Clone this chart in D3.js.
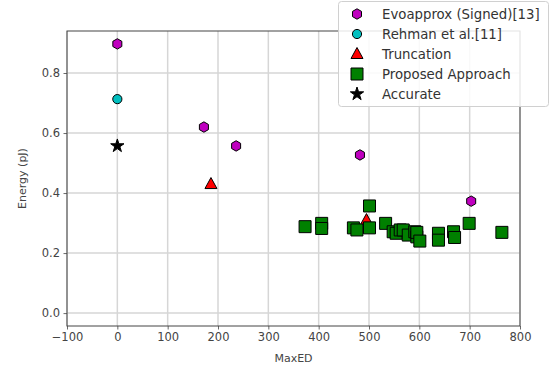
<!DOCTYPE html>
<html>
<head>
<meta charset="utf-8">
<script src="https://cdn.jsdelivr.net/npm/d3@7"></script>
<style>
  body { margin: 0; background: #fff; }
  text { font-family: "DejaVu Sans", sans-serif; }
</style>
</head>
<body>
<div id="chart"></div>
<script>
var evoX = [0, 172, 236, 482, 703];
var evoY = [0.897, 0.62, 0.557, 0.527, 0.373];

var rehmanX = [0];
var rehmanY = [0.713];

var truncX = [186, 495];
var truncY = [0.43, 0.31];

var propX = [373, 406, 406, 469, 476, 501, 501, 533, 548, 554, 562, 568, 578, 591, 595, 595, 601, 638, 638, 668, 670, 699, 764];
var propY = [0.288, 0.299, 0.282, 0.284, 0.277, 0.357, 0.284, 0.299, 0.271, 0.266, 0.277, 0.277, 0.26, 0.271, 0.254, 0.269, 0.24, 0.266, 0.243, 0.271, 0.252, 0.299, 0.269];

var accX = [0];
var accY = [0.557];

var xTicks = [-100, 0, 100, 200, 300, 400, 500, 600, 700, 800];
var yTicks = [0.0, 0.2, 0.4, 0.6, 0.8];

var seriesNames = ["Evoapprox (Signed)[13]", "Rehman et al.[11]", "Truncation", "Proposed Approach", "Accurate"];

var W = 555, H = 372;
var plotLeft = 67, plotRight = 520, plotTop = 31, plotBottom = 326;

var svg = d3.select("#chart").append("svg")
    .attr("width", W)
    .attr("height", H);

var x = d3.scaleLinear().domain([-100, 800]).range([plotLeft, plotRight]);
var y = d3.scaleLinear().domain([-0.043, 0.94]).range([plotBottom, plotTop]);

// grid
svg.append("g").selectAll("line")
    .data(xTicks)
    .enter().append("line")
        .attr("x1", d => x(d)).attr("x2", d => x(d))
        .attr("y1", plotTop).attr("y2", plotBottom)
        .attr("stroke", "#d6d6d6").attr("stroke-width", 1.5);
svg.append("g").selectAll("line")
    .data(yTicks)
    .enter().append("line")
        .attr("x1", plotLeft).attr("x2", plotRight)
        .attr("y1", d => y(d)).attr("y2", d => y(d))
        .attr("stroke", "#d6d6d6").attr("stroke-width", 1.5);

// axes
var xAxis = svg.append("g")
    .attr("transform", "translate(0," + plotBottom + ")")
    .call(d3.axisBottom(x).tickValues(xTicks).tickSize(3.5).tickPadding(3.5)
        .tickFormat(d => d < 0 ? "\u2212" + Math.abs(d) : d));
var yAxis = svg.append("g")
    .attr("transform", "translate(" + plotLeft + ",0)")
    .call(d3.axisLeft(y).tickValues(yTicks).tickSize(3.5).tickPadding(3.5).tickFormat(d3.format(".1f")));

[xAxis, yAxis].forEach(function(a) {
    a.select(".domain").remove();
    a.selectAll(".tick line").attr("stroke", "#444").attr("stroke-width", 0.8);
    a.selectAll(".tick text").attr("fill", "#444").style("font-size", "11.5px");
});

svg.append("rect")
    .attr("x", plotLeft).attr("y", plotTop)
    .attr("width", plotRight - plotLeft).attr("height", plotBottom - plotTop)
    .attr("fill", "none").attr("stroke", "#444").attr("stroke-width", 1);

svg.append("text")
    .attr("x", (plotLeft + plotRight) / 2).attr("y", 362)
    .attr("text-anchor", "middle")
    .attr("fill", "#444").style("font-size", "11px")
    .text("MaxED");

svg.append("text")
    .attr("transform", "translate(26," + ((plotTop + plotBottom) / 2) + ") rotate(-90)")
    .attr("text-anchor", "middle")
    .attr("fill", "#444").style("font-size", "11px")
    .text("Energy (pJ)");

// marker shapes
function hexPath(r) {
    var pts = [];
    for (var i = 0; i < 6; i++) {
        var a = Math.PI / 2 + i * Math.PI / 3;
        pts.push([r * Math.cos(a), -r * Math.sin(a)]);
    }
    return "M" + pts.map(p => p.join(",")).join("L") + "Z";
}
var markers = {
    hex: hexPath(5.2),
    circle: d3.symbol().type(d3.symbolCircle).size(Math.PI * 4.6 * 4.6)(),
    tri: "M0,-6.5L6,4.5L-6,4.5Z",
    square: "M-6,-6L6,-6L6,6L-6,6Z",
    star: d3.symbol().type(d3.symbolStar).size(55)()
};

var series = [
    {xs: evoX, ys: evoY, shape: "hex", fill: "#bf00bf"},
    {xs: rehmanX, ys: rehmanY, shape: "circle", fill: "#00bfbf"},
    {xs: truncX, ys: truncY, shape: "tri", fill: "#ff0000"},
    {xs: propX, ys: propY, shape: "square", fill: "#008000"},
    {xs: accX, ys: accY, shape: "star", fill: "#000000"}
];

var plot = svg.append("g");
series.forEach(function(s) {
    plot.selectAll(null)
        .data(s.xs.map((v, i) => [v, s.ys[i]]))
        .enter().append("path")
            .attr("d", markers[s.shape])
            .attr("transform", d => "translate(" + x(d[0]) + "," + y(d[1]) + ")")
            .attr("fill", s.fill)
            .attr("stroke", "#000")
            .attr("stroke-width", 1);
});

// legend
var legend = svg.append("g");
legend.append("rect")
    .attr("x", 338.5).attr("y", 1.5)
    .attr("width", 210).attr("height", 105)
    .attr("rx", 3)
    .attr("fill", "#fff").attr("fill-opacity", 0.85)
    .attr("stroke", "#d0d0d0").attr("stroke-width", 1);

seriesNames.forEach(function(name, i) {
    var ly = 14 + i * 20;
    legend.append("path")
        .attr("d", markers[series[i].shape])
        .attr("transform", "translate(357," + ly + ")")
        .attr("fill", series[i].fill)
        .attr("stroke", "#000").attr("stroke-width", 1);
    legend.append("text")
        .attr("x", 382).attr("y", ly + 4.5)
        .attr("fill", "#333").style("font-size", "13.3px")
        .text(name);
});
</script>
</body>
</html>
